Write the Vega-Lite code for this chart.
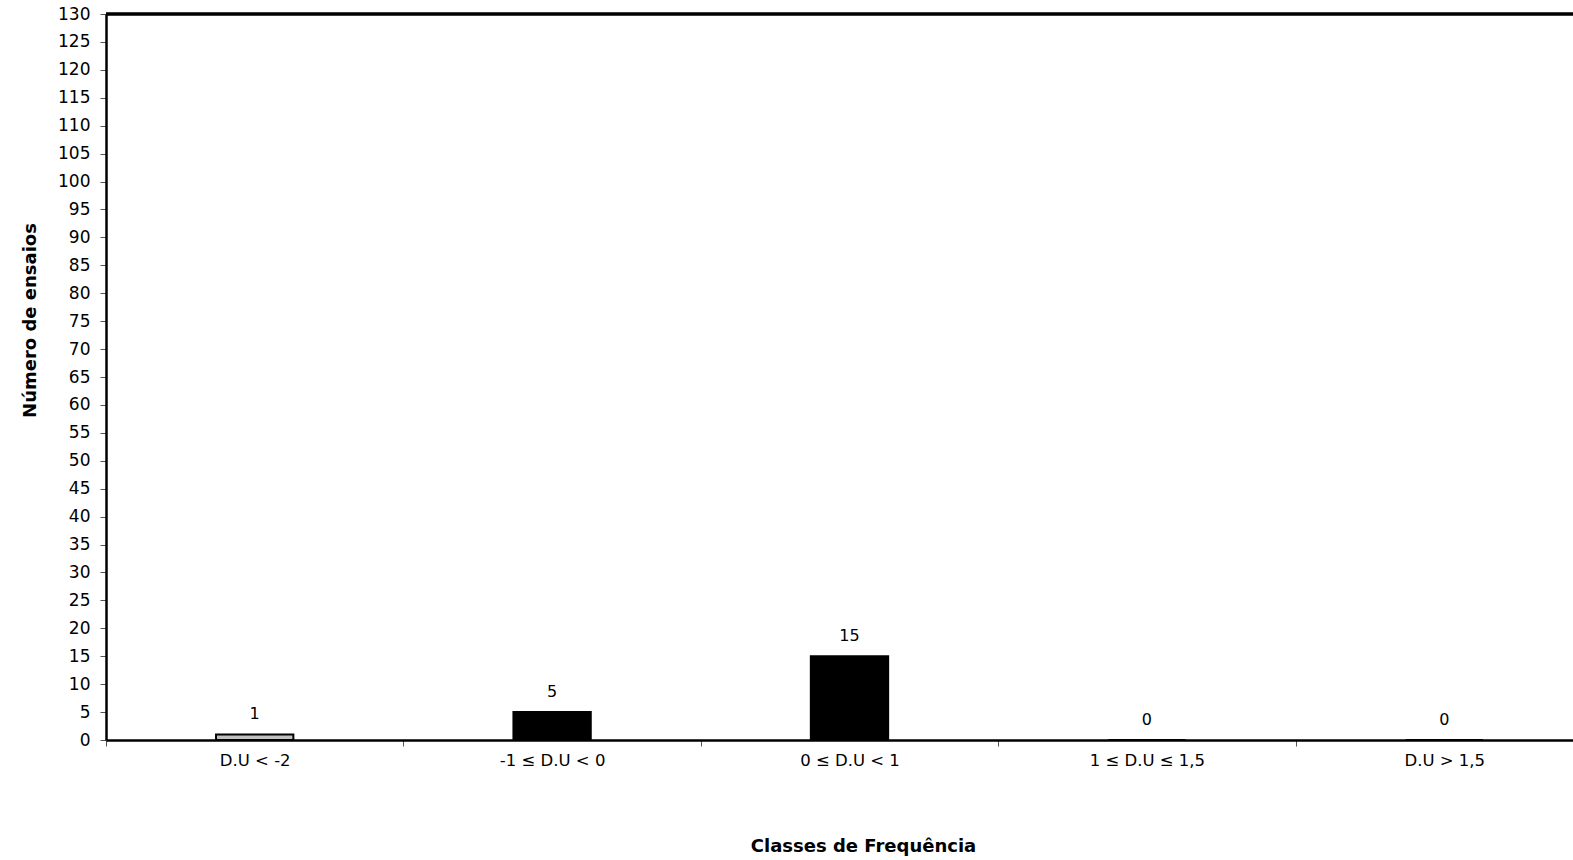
{
  "$schema": "https://vega.github.io/schema/vega-lite/v6.json",
  "width": 1467,
  "height": 726,
  "autosize": {"type": "none"},
  "padding": {"left": 106, "top": 14, "right": 0, "bottom": 120},
  "background": "white",
  "config": {
    "view": {"stroke": null},
    "font": "DejaVu Sans"
  },
  "data": {
    "values": [
      {"classe": "D.U < -2", "n": 1, "tipo": "a"},
      {"classe": "-1 ≤ D.U < 0", "n": 5, "tipo": "b"},
      {"classe": "0 ≤ D.U < 1", "n": 15, "tipo": "b"},
      {"classe": "1 ≤ D.U ≤ 1,5", "n": 0, "tipo": "b"},
      {"classe": "D.U > 1,5", "n": 0, "tipo": "b"}
    ]
  },
  "encoding": {
    "x": {
      "field": "classe", "type": "nominal", "sort": null,
      "scale": {"range": [0, 1487], "paddingInner": 0, "paddingOuter": 0},
      "axis": {
        "title": "Classes de Frequência",
        "titleFont": "DejaVu Sans", "titleFontSize": 18, "titleFontWeight": "bold", "titleColor": "black",
        "titleX": 757, "titleY": 106, "titleBaseline": "middle", "titleAlign": "center",
        "labelAngle": 0, "labelFont": "DejaVu Sans", "labelFontSize": 16.5, "labelColor": "black", "labelPadding": 6,
        "labelOverlap": false,
        "tickBand": "extent", "tickSize": 6, "tickColor": "#555", "tickWidth": 1,
        "domainColor": "black", "domainWidth": 2.5
      }
    },
    "y": {
      "field": "n", "type": "quantitative",
      "scale": {"domain": [0, 130], "nice": false},
      "axis": {
        "title": "Número de ensaios",
        "titleFont": "DejaVu Sans", "titleFontSize": 18, "titleFontWeight": "bold", "titleColor": "black",
        "titleX": -76, "titleY": 306, "titleAngle": 270, "titleAlign": "center", "titleBaseline": "middle",
        "values": [0,5,10,15,20,25,30,35,40,45,50,55,60,65,70,75,80,85,90,95,100,105,110,115,120,125,130],
        "labelFont": "DejaVu Sans", "labelFontSize": 17, "labelColor": "black", "labelPadding": 10,
        "labelOverlap": false, "labelFlush": false,
        "tickSize": 6, "tickColor": "#555", "tickWidth": 1, "grid": false,
        "domainColor": "black", "domainWidth": 2.5
      }
    }
  },
  "layer": [
    {
      "mark": {"type": "bar", "width": {"band": 0.26}, "stroke": "black", "strokeWidth": 2},
      "encoding": {
        "fill": {
          "field": "tipo", "type": "nominal",
          "scale": {"domain": ["a", "b"], "range": ["#c0c0c0", "black"]},
          "legend": null
        }
      }
    },
    {
      "mark": {"type": "text", "baseline": "bottom", "dy": -12, "fontSize": 16, "font": "DejaVu Sans", "color": "black"},
      "encoding": {
        "text": {"field": "n", "type": "quantitative"}
      }
    },
    {
      "mark": {"type": "rule", "color": "black", "strokeWidth": 2.5},
      "encoding": {"x": null, "y": {"datum": 130}}
    }
  ]
}
